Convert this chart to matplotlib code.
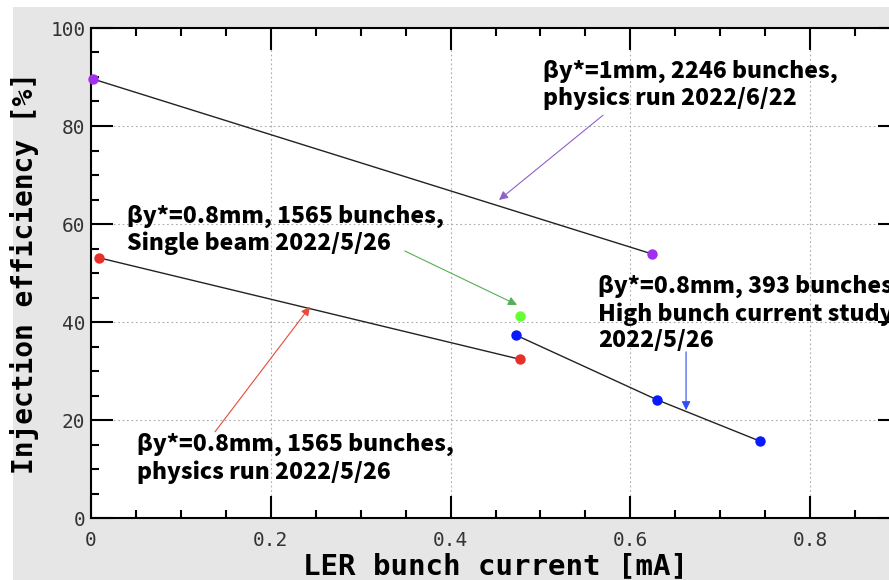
import matplotlib
matplotlib.use("Agg")
import matplotlib.pyplot as plt
from matplotlib.patches import Rectangle
from matplotlib.ticker import MultipleLocator

# Injection efficiency vs LER bunch current, grouped by run condition
phys_1mm_x = [0.002, 0.624]
phys_1mm_y = [89.6, 53.9]

phys_08_x = [0.009, 0.477]
phys_08_y = [53.1, 32.4]

single_x = [0.477]
single_y = [41.2]

hbc_x = [0.473, 0.630, 0.744]
hbc_y = [37.3, 24.1, 15.7]

xticks = [0, 0.2, 0.4, 0.6, 0.8]
xtick_labels = ["0", "0.2", "0.4", "0.6", "0.8"]
yticks = [0, 20, 40, 60, 80, 100]
ytick_labels = ["0", "20", "40", "60", "80", "100"]

label_1mm = "βy*=1mm, 2246 bunches,\nphysics run 2022/6/22"
label_single = "βy*=0.8mm, 1565 bunches,\nSingle beam 2022/5/26"
label_hbc = "βy*=0.8mm, 393 bunches,\nHigh bunch current study,\n2022/5/26"
label_phys = "βy*=0.8mm, 1565 bunches,\nphysics run 2022/5/26"

W, H = 889, 580
fig = plt.figure(figsize=(W / 100, H / 100), dpi=100)
fig.patch.set_facecolor("white")
fig.add_artist(Rectangle((13 / W, 0), 1 - 13 / W, 1 - 7 / H,
                         transform=fig.transFigure, facecolor="#e6e6e6",
                         edgecolor="none", zorder=-5))

ax = fig.add_axes([91 / W, 62 / H, 809 / W, 490 / H])
ax.set_xlim(0, 0.9)
ax.set_ylim(0, 100)

mono = "DejaVu Sans Mono"
ax.set_xticks(xticks)
ax.set_xticklabels(xtick_labels, family=mono, fontsize=14, color="#333333")
ax.set_yticks(yticks)
ax.set_yticklabels(ytick_labels, family=mono, fontsize=14, color="#333333")
ax.xaxis.set_minor_locator(MultipleLocator(0.05))
ax.yaxis.set_minor_locator(MultipleLocator(5))
ax.tick_params(which="both", direction="in", top=True, right=True, width=1.5)
ax.tick_params(which="major", length=16)
ax.tick_params(which="minor", length=6)
ax.tick_params(axis="x", which="major", pad=9)
ax.tick_params(axis="y", which="major", pad=4)
for s in ax.spines.values():
    s.set_linewidth(1.5)

ax.grid(True, which="major", linestyle=(0, (1.5, 2.5)), color="#aaaaaa", lw=0.8)
ax.set_axisbelow(True)

ax.set_xlabel("LER bunch current [mA]", family=mono, fontweight="bold",
              fontsize=21, labelpad=2)
ax.set_ylabel("Injection efficiency [%]", family=mono, fontweight="bold",
              fontsize=20, labelpad=8)

ms = 7.5
ax.plot(phys_1mm_x, phys_1mm_y, color="#222222", lw=1.0, zorder=3)
ax.plot(phys_08_x, phys_08_y, color="#222222", lw=1.0, zorder=3)
ax.plot(hbc_x, hbc_y, color="#222222", lw=1.0, zorder=3)
ax.plot(phys_1mm_x, phys_1mm_y, "o", color="#a030f0", ms=ms, mec="none",
        zorder=4, clip_on=False)
ax.plot(phys_08_x, phys_08_y, "o", color="#e8302a", ms=ms, mec="none",
        zorder=4, clip_on=False)
ax.plot(single_x, single_y, "o", color="#66ff33", ms=ms, mec="none",
        zorder=4, clip_on=False)
ax.plot(hbc_x, hbc_y, "o", color="#0a1aff", ms=ms, mec="none",
        zorder=4, clip_on=False)

tfont = dict(family=["Noto Sans CJK JP", "DejaVu Sans"], fontweight="heavy",
             fontsize=16.5, color="black", linespacing=1.2, va="top", ha="left",
             zorder=5, clip_on=False)
ax.text(0.503, 93.6, label_1mm, **tfont)
ax.text(0.040, 64.0, label_single, **tfont)
ax.text(0.564, 49.6, label_hbc, **tfont)
ax.text(0.051, 17.3, label_phys, **tfont)


def arrow(tail, head, color):
    ax.annotate("", xy=head, xytext=tail,
                arrowprops=dict(arrowstyle="-|>", color=color, lw=0.8,
                                mutation_scale=13, shrinkA=0, shrinkB=0),
                zorder=5)


arrow((0.5696, 82.2), (0.4539, 64.9), "#9060cc")
arrow((0.349, 54.5), (0.474, 43.5), "#55b055")
arrow((0.662, 33.9), (0.662, 22.0), "#3050f0")
arrow((0.138, 17.6), (0.2436, 43.1), "#e84a3a")

fig.savefig("out.png", dpi=100)
